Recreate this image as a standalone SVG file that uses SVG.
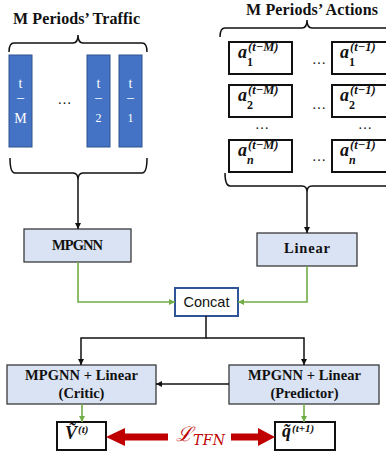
<svg xmlns="http://www.w3.org/2000/svg" width="386" height="455" viewBox="0 0 386 455">
<style>
.title{font-family:"Liberation Serif",serif;font-weight:bold;font-size:16px;fill:#111}
.bar{fill:#4472c4;stroke:#2f528f;stroke-width:1}
.bt{font-family:"Liberation Serif",serif;font-size:14px;fill:#fff;text-anchor:middle}
.bd{font-family:"Liberation Serif",serif;font-size:12px;fill:#fff;text-anchor:middle}
.dots{font-family:"Liberation Serif",serif;font-size:14px;fill:#111;text-anchor:middle}
.abox{fill:#fff;stroke:#111;stroke-width:2}
.am{font-family:"Liberation Serif","DejaVu Serif",serif;font-weight:bold;font-style:italic;font-size:18px;fill:#111}
.sub{font-family:"Liberation Serif",serif;font-weight:bold;font-size:12px;fill:#111}
.sup{font-family:"Liberation Serif",serif;font-weight:bold;font-style:italic;font-size:12.5px;fill:#111}
.nbox{fill:#dae3f3;stroke:#3a3a3a;stroke-width:1.3}
.nt{font-family:"Liberation Serif",serif;font-weight:bold;font-size:14.5px;fill:#111;text-anchor:middle}
.cbox{fill:#fff;stroke:#2f5597;stroke-width:2}
.ct{font-family:"Liberation Sans",sans-serif;font-size:14.5px;fill:#111;text-anchor:middle}
.obox{fill:#fff;stroke:#111;stroke-width:2}
.brace{fill:none;stroke:#111;stroke-width:1.5}
.blk{fill:none;stroke:#111;stroke-width:1.5}
.grn{fill:none;stroke:#70ad47;stroke-width:1.6}
.red{fill:#c00000}
.lt{font-family:"DejaVu Serif",serif;font-style:italic;fill:#c00000}
</style>
<defs>
<marker id="ab" viewBox="0 0 10 10" refX="10" refY="5" markerWidth="6" markerHeight="6" orient="auto" markerUnits="userSpaceOnUse"><path d="M0,0 L10,5 L0,10 z" fill="#111"/></marker>
<marker id="ag" viewBox="0 0 10 10" refX="10" refY="5" markerWidth="6" markerHeight="6" orient="auto" markerUnits="userSpaceOnUse"><path d="M0,0 L10,5 L0,10 z" fill="#70ad47"/></marker>
</defs>
<rect width="386" height="455" fill="#fff"/>

<g id="titles">
<text class="title" x="13" y="24" textLength="127">M Periods’ Traffic</text>
<text class="title" x="246" y="15" textLength="132">M Periods’ Actions</text>
</g>

<g id="braces">
<path class="brace" d="M9,52 Q9,43 14,43 L73,43 Q78,43 78,35 Q78,43 83,43 L142,43 Q147,43 147,52"/>
<path class="brace" d="M10,158 Q10,173 15,173 L73,173 Q78,173 78,180 Q78,173 83,173 L142,173 Q147,173 147,158"/>
<path class="brace" d="M220,37 Q220,28 225,28 L302,28 Q307,28 307,20 Q307,28 312,28 L392,28"/>
<path class="brace" d="M225,173 Q225,186 230,186 L302,186 Q307,186 307,192 Q307,186 312,186 L392,186"/>
</g>

<g id="traffic">
<rect class="bar" x="9" y="55" width="23" height="92"/>
<text class="bt" x="20.5" y="88">t</text>
<text class="bt" x="20.5" y="102">–</text>
<text class="bt" x="20.5" y="123">M</text>
<rect class="bar" x="87" y="55" width="23" height="92"/>
<text class="bt" x="98.5" y="88">t</text>
<text class="bt" x="98.5" y="102">–</text>
<text class="bd" x="98.5" y="122">2</text>
<rect class="bar" x="119" y="55" width="23" height="92"/>
<text class="bt" x="130.5" y="88">t</text>
<text class="bt" x="130.5" y="102">–</text>
<text class="bd" x="130.5" y="122">1</text>
<text class="dots" x="64.5" y="104">…</text>
</g>

<g id="actions">
<rect class="abox" x="229" y="42" width="63" height="32"/>
<text class="am" x="238" y="58">a</text><text class="sub" x="247" y="66">1</text><text class="sup" x="248" y="51">(t−M)</text>
<rect class="abox" x="332" y="42" width="64" height="32"/>
<text class="am" x="340" y="58">a</text><text class="sub" x="349" y="66">1</text><text class="sup" x="350" y="51">(t−1)</text>
<text class="dots" x="319" y="64">…</text>

<rect class="abox" x="229" y="85" width="63" height="32"/>
<text class="am" x="238" y="101">a</text><text class="sub" x="247" y="109">2</text><text class="sup" x="248" y="94">(t−M)</text>
<rect class="abox" x="332" y="85" width="64" height="32"/>
<text class="am" x="340" y="101">a</text><text class="sub" x="349" y="109">2</text><text class="sup" x="350" y="94">(t−1)</text>
<text class="dots" x="319" y="109">…</text>

<text class="dots" x="262" y="129">…</text>
<text class="dots" x="365" y="129">…</text>

<rect class="abox" x="229" y="140" width="63" height="32"/>
<text class="am" x="238" y="156">a</text><text class="sub" x="247" y="164" font-style="italic">n</text><text class="sup" x="248" y="149">(t−M)</text>
<rect class="abox" x="332" y="140" width="64" height="32"/>
<text class="am" x="340" y="156">a</text><text class="sub" x="349" y="164" font-style="italic">n</text><text class="sup" x="350" y="149">(t−1)</text>
<text class="dots" x="319" y="161">…</text>
</g>

<g id="mpgnn">
<rect class="nbox" x="24" y="229" width="107" height="33"/>
<text class="nt" x="77.5" y="250" textLength="51">MPGNN</text>
</g>
<g id="linear">
<rect class="nbox" x="257" y="233" width="100" height="33"/>
<text class="nt" x="307" y="253" textLength="46">Linear</text>
</g>
<g id="concat">
<rect class="cbox" x="175" y="288" width="63" height="28"/>
<text class="ct" x="206.5" y="307">Concat</text>
</g>
<g id="critic">
<rect class="nbox" x="7" y="365" width="149" height="39"/>
<text class="nt" x="81.5" y="380" textLength="113">MPGNN + Linear</text>
<text class="nt" x="81.5" y="398">(Critic)</text>
</g>
<g id="predictor">
<rect class="nbox" x="229" y="365" width="150" height="39"/>
<text class="nt" x="304.5" y="380" textLength="113">MPGNN + Linear</text>
<text class="nt" x="304.5" y="398">(Predictor)</text>
</g>
<g id="value">
<rect class="obox" x="57" y="422" width="49" height="28"/>
<text class="am" x="65" y="439" font-size="16">Ṽ<tspan font-size="11" dy="-6" dx="1">(t)</tspan></text>
</g>
<g id="qvalue">
<rect class="obox" x="275" y="422" width="60" height="28"/>
<text class="am" x="282" y="437" font-size="16">q̃<tspan font-size="11" dy="-5" dx="1">(t+1)</tspan></text>
</g>

<g id="loss">
<text class="lt" x="176" y="441" font-size="20">ℒ</text>
<text class="lt" x="193" y="445" font-size="14" textLength="32">TFN</text>
</g>

<g id="connectors">
<path class="blk" d="M78,180 V229" marker-end="url(#ab)"/>
<path class="blk" d="M307,192 V233" marker-end="url(#ab)"/>
<path class="grn" d="M78,262 V302 H175" marker-end="url(#ag)"/>
<path class="grn" d="M307,266 V302 H238" marker-end="url(#ag)"/>
<path class="blk" d="M206,316 V338 H81 V365" marker-end="url(#ab)"/>
<path class="blk" d="M206,338 H304 V365" marker-end="url(#ab)"/>
<path class="blk" d="M229,384 H156" marker-end="url(#ab)"/>
<path class="grn" d="M82,404 V422" marker-end="url(#ag)"/>
<path class="grn" d="M304,404 V422" marker-end="url(#ag)"/>
<polygon class="red" points="168,433.5 125,433.5 125,428 106,437 125,446 125,440.5 168,440.5"/>
<polygon class="red" points="231,433.5 258,433.5 258,428 275,437 258,446 258,440.5 231,440.5"/>
</g>
</svg>
